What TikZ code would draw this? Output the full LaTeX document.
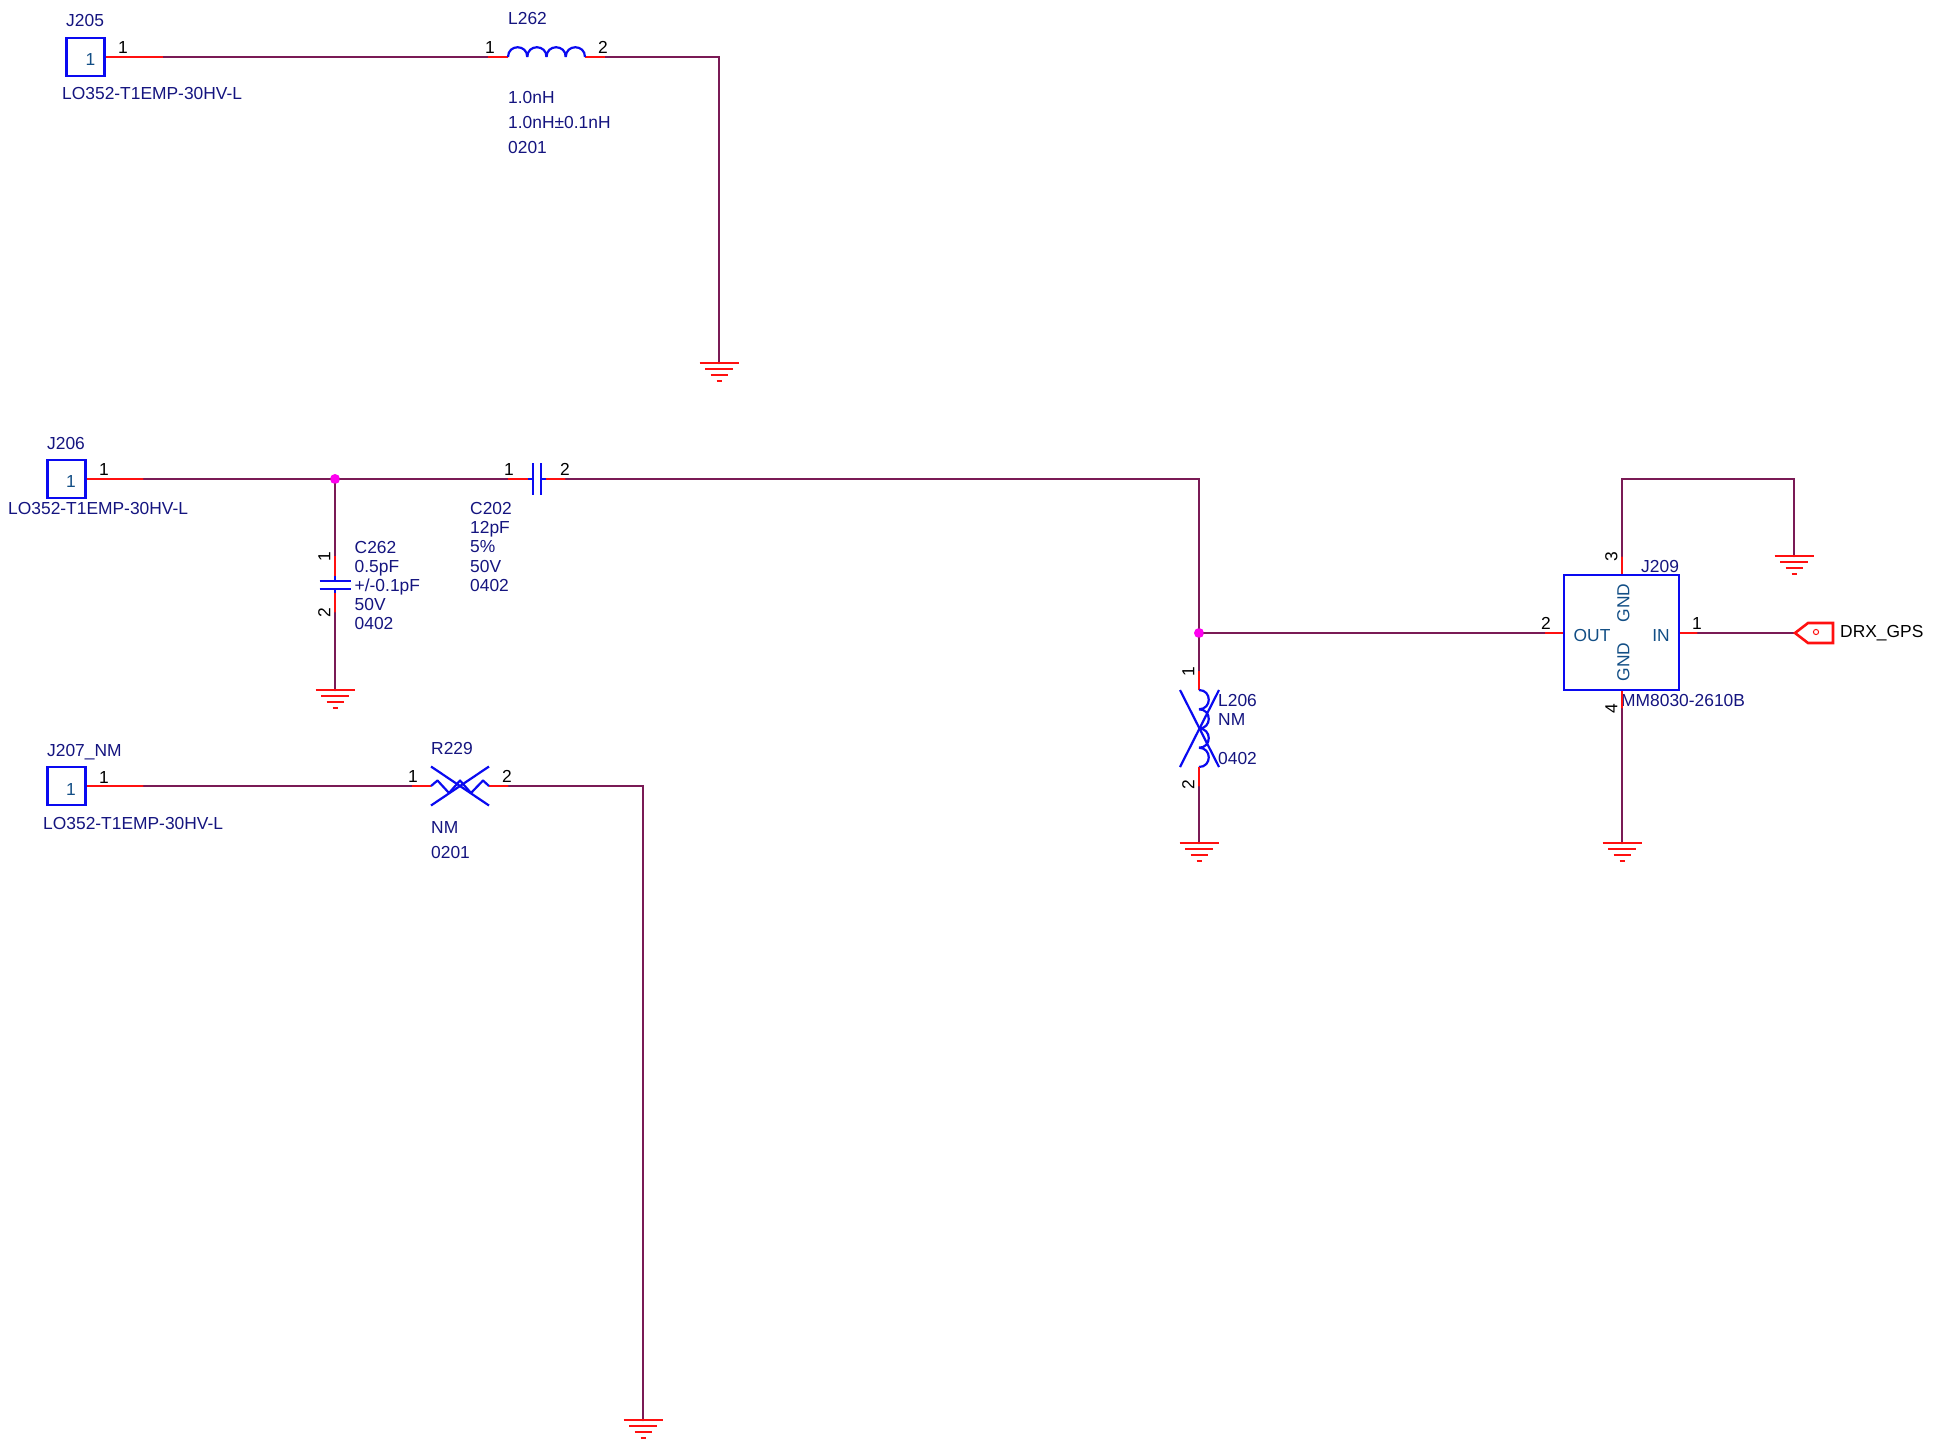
\documentclass[tikz,border=0pt]{standalone}
\usepackage{fontspec}
\setmainfont{Liberation Sans}
\definecolor{wirecol}{HTML}{7A1A55}
\definecolor{pincol}{HTML}{FF1010}
\definecolor{partcol}{HTML}{0A0AF0}
\definecolor{refcol}{HTML}{14147F}
\definecolor{symcol}{HTML}{124E85}
\definecolor{dotcol}{HTML}{FF00F0}
\tikzset{
    wire/.style = {draw=wirecol, line width=2.6pt, line cap=round},
    pin/.style = {draw=pincol, line width=2.6pt},
    part/.style = {draw=partcol, line width=2.2pt},
    lbl/.style = {inner sep=0pt, text height=12.6pt, text depth=0pt, font=\fontsize{17.4}{19}\selectfont},
    reflbl/.style = {lbl, anchor=west, text=refcol},
    pinlbl/.style = {lbl, text=black},
    symlbl/.style = {lbl, text=symcol},
    conn/.style = {draw=partcol, line width=2.2pt, minimum width=38pt, minimum height=38pt, inner sep=0pt},
    dot/.style = {circle, fill=dotcol, inner sep=0pt, minimum size=10pt},
    gnd/.pic = {
        \draw[pin] (-19.5,0) -- (19.5,0);
        \draw[pin] (-14,6) -- (14,6);
        \draw[pin] (-8.5,12) -- (8.5,12);
        \draw[pin] (-2.5,18) -- (2.5,18);
    }
}
\begin{document}
\begin{tikzpicture}[x=1pt, y=-1pt]
    \useasboundingbox (0,0) rectangle (1938,1438);

    % J205 to ground
    \node[conn] (J205) at (85.5,57) {};
    \node[symlbl] (J205in) at (90.5,59) {1};
    \node[reflbl] (J205ref) at (66,20) {J205};
    \node[reflbl] (J205val) at (62,93) {LO352-T1EMP-30HV-L};
    \node[pinlbl] (J205pin) at (123,47) {1};
    \coordinate (a1) at (163,57);
    \coordinate (a2) at (488,57);
    \coordinate (L262a) at (508,57);
    \coordinate (L262b) at (585,57);
    \coordinate (a3) at (605,57);
    \coordinate (a4) at (719,57);
    \coordinate (g1) at (719,363);
    \draw[wire] (a1) -- (a2);
    \draw[wire] (a3) -- (a4) -- (g1);
    \draw[pin] (J205.east |- a1) -- (a1);
    \draw[pin] (a2) -- (L262a);
    \draw[pin] (L262b) -- (a3);
    \foreach \i in {0,1,2,3}
        \draw[part] ([xshift=\i*19.25pt]L262a) .. controls +(0,-13) and +(0,-13) .. +(19.25,0);
    \pic at (g1) {gnd};
    \node[pinlbl] (L262p1) at (490,47) {1};
    \node[pinlbl] (L262p2) at (603,47) {2};
    \node[reflbl] (L262ref) at (508,18) {L262};
    \foreach \t [count=\i] in {1.0nH,1.0nH±0.1nH,0201}
        \node[reflbl] (L262-\i) at (508,{72+25*\i}) {\t};

    % J206 with C262 and C202
    \node[conn] (J206) at (66.5,479) {};
    \node[symlbl] (J206in) at (71,481) {1};
    \node[reflbl] (J206ref) at (47,443) {J206};
    \node[reflbl] (J206val) at (8,508) {LO352-T1EMP-30HV-L};
    \node[pinlbl] (J206pin) at (104,469) {1};
    \node[dot] (n1) at (335,479) {};
    \coordinate (b1) at (144,479);
    \coordinate (b2) at (508,479);
    \coordinate (C202a) at (533,479);
    \coordinate (C202b) at (541,479);
    \coordinate (b3) at (566,479);
    \node[dot] (n2) at (1199,633) {};
    \coordinate (b4) at (1199,479);
    \draw[pin] (J206.east |- b1) -- (b1);
    \draw[wire] (b1) -- (n1) -- (b2);
    \draw[pin] (b2) -- ++(20,0);
    \draw[part] (C202a) ++(-5,0) -- (C202a) ++(0,-16) -- ++(0,32);
    \draw[part] (C202b) ++(5,0) -- (C202b) ++(0,-16) -- ++(0,32);
    \draw[pin] (b3) -- ++(-20,0);
    \draw[wire] (b3) -- (b4) -- (n2);
    \node[pinlbl] (C202p1) at (509,469) {1};
    \node[pinlbl] (C202p2) at (565,469) {2};
    \foreach \t [count=\i] in {C202,12pF,5\%,50V,0402}
        \node[reflbl] (C202-\i) at (470,{488.6+19.3*\i}) {\t};

    \coordinate (c1) at (335,556);
    \coordinate (C262a) at (335,581);
    \coordinate (C262b) at (335,589);
    \coordinate (c2) at (335,613);
    \coordinate (g2) at (335,690);
    \draw[wire] (n1) -- (c1);
    \draw[pin] (c1) -- ++(0,20);
    \draw[part] (C262a) ++(0,-5) -- (C262a) ++(-15.5,0) -- ++(31,0);
    \draw[part] (C262b) ++(0,5) -- (C262b) ++(-15.5,0) -- ++(31,0);
    \draw[pin] (c2) -- ++(0,-20);
    \draw[wire] (c2) -- (g2);
    \pic at (g2) {gnd};
    \node[pinlbl, rotate=90] (C262p1) at (324,557) {1};
    \node[pinlbl, rotate=90] (C262p2) at (324,613) {2};
    \foreach \t [count=\i] in {C262,0.5pF,{+/-0.1pF},50V,0402}
        \node[reflbl] (C262-\i) at (354.5,{528+19*\i}) {\t};

    % J207 with R229
    \node[conn] (J207) at (66.5,786) {};
    \node[symlbl] (J207in) at (71,789) {1};
    \node[reflbl] (J207ref) at (47,750) {J207\_NM};
    \node[reflbl] (J207val) at (43,823) {LO352-T1EMP-30HV-L};
    \node[pinlbl] (J207pin) at (104,777) {1};
    \coordinate (d1) at (144,786);
    \coordinate (d2) at (412,786);
    \coordinate (R229a) at (431,786);
    \coordinate (R229b) at (489,786);
    \coordinate (d3) at (509,786);
    \coordinate (d4) at (643,786);
    \coordinate (g3) at (643,1420);
    \draw[pin] (J207.east |- d1) -- (d1);
    \draw[wire] (d1) -- (d2);
    \draw[pin] (d2) -- (R229a);
    \draw[pin] (R229b) -- (d3);
    \draw[wire] (d3) -- (d4) -- (g3);
    \draw[part, line join=round] (R229a) -- ++(6.5,-5.5) -- ++(11.5,12.5) -- ++(11,-12.5) -- ++(11,12.5) -- ++(12,-12.5) -- (R229b);
    \draw[part] (R229a) ++(0,-19.5) -- ++(58,39);
    \draw[part] (R229a) ++(0,19.5) -- ++(58,-39);
    \pic at (g3) {gnd};
    \node[pinlbl] (R229p1) at (413,776) {1};
    \node[pinlbl] (R229p2) at (507,776) {2};
    \node[reflbl] (R229ref) at (431,748) {R229};
    \node[reflbl] (R229-1) at (431,827) {NM};
    \node[reflbl] (R229-2) at (431,852) {0201};

    % L206 to ground
    \coordinate (e1) at (1199,671);
    \coordinate (L206a) at (1199,690);
    \coordinate (L206b) at (1199,767);
    \coordinate (e2) at (1199,787);
    \coordinate (g4) at (1199,843);
    \draw[wire] (n2) -- (e1);
    \draw[pin] (e1) -- (L206a);
    \foreach \i in {0,1,2,3}
        \draw[part] ([yshift=-\i*19.25pt]L206a) .. controls +(13,0) and +(13,0) .. +(0,19.25);
    \draw[part] (L206a) ++(-19,0) -- ++(39,77);
    \draw[part] (L206b) ++(-19,0) -- ++(39,-77);
    \draw[pin] (L206b) -- (e2);
    \draw[wire] (e2) -- (g4);
    \pic at (g4) {gnd};
    \node[pinlbl, rotate=90] (L206p1) at (1188,672) {1};
    \node[pinlbl, rotate=90] (L206p2) at (1188,785) {2};
    \node[reflbl] (L206ref) at (1218,700) {L206};
    \node[reflbl] (L206-1) at (1218,719) {NM};
    \node[reflbl] (L206-2) at (1218,758) {0402};

    % J209 and DRX_GPS
    \node[conn, minimum width=115pt, minimum height=115pt] (J209) at (1621.5,632.5) {};
    \node[reflbl] (J209ref) at (1641,566) {J209};
    \node[reflbl] (J209val) at (1621,700) {MM8030-2610B};
    \node[symlbl] (J209out) at (1592,635) {OUT};
    \node[symlbl] (J209in) at (1661,635) {IN};
    \node[symlbl, rotate=90] (J209gnd1) at (1623,603) {GND};
    \node[symlbl, rotate=90] (J209gnd2) at (1623,662) {GND};
    \coordinate (f1) at (1545,633);
    \coordinate (f2) at (1698,633);
    \coordinate (f3) at (1622,556);
    \coordinate (f4) at (1622,479);
    \coordinate (f5) at (1794,479);
    \coordinate (g5) at (1794,556);
    \coordinate (f6) at (1622,709);
    \coordinate (g6) at (1622,843);
    \draw[wire] (n2) -- (f1);
    \draw[pin] (f1) -- (J209.west |- f1);
    \draw[pin] (J209.east |- f2) -- (f2);
    \draw[pin] (f3) -- (J209.north -| f3);
    \draw[wire] (f3) -- (f4) -- (f5) -- (g5);
    \pic at (g5) {gnd};
    \draw[pin] (J209.south -| f6) -- (f6);
    \draw[wire] (f6) -- (g6);
    \pic at (g6) {gnd};
    \node[pinlbl] (J209p2) at (1546,623) {2};
    \node[pinlbl] (J209p1) at (1697,623) {1};
    \node[pinlbl, rotate=90] (J209p3) at (1611,557) {3};
    \node[pinlbl, rotate=90] (J209p4) at (1611,709) {4};
    \coordinate (DRX) at (1795,633);
    \draw[wire] (f2) -- (DRX);
    \draw[pin, line join=miter] (DRX) -- ++(13,-10) -- ++(25,0) -- ++(0,20) -- ++(-25,0) -- cycle;
    \draw[draw=pincol, line width=1pt] (1816,632) circle (2.6);
    \node[pinlbl, anchor=west] (DRXlbl) at (1840,631) {DRX\_GPS};
\end{tikzpicture}
\end{document}
